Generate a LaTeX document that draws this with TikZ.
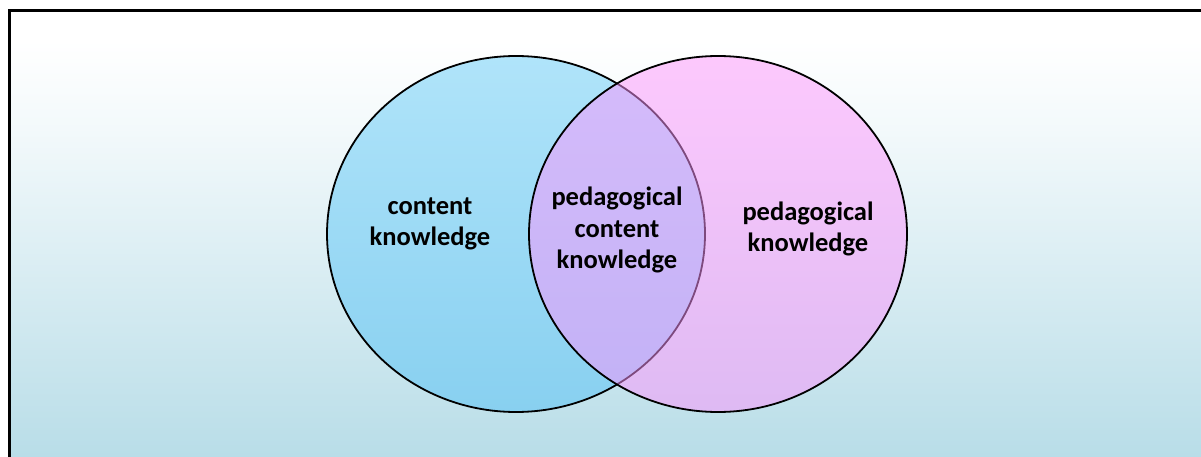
\documentclass[tikz,border=0pt]{standalone}
\usepackage{fontspec}
\setmainfont{Carlito}
\begin{document}
\begin{tikzpicture}[x=1pt,y=-1pt,
  lbl/.style={font=\bfseries\fontsize{26.5}{31.5}\selectfont, align=center, text=black, inner sep=0pt},
  ring/.style={line width=1.8pt, draw=black}]
\definecolor{bgtop}{RGB}{255,255,255}
\definecolor{bgbot}{RGB}{182,220,231}
\definecolor{bluetop}{RGB}{176,228,250}
\definecolor{bluebot}{RGB}{136,208,240}
\definecolor{pinktop}{RGB}{252,148,252}
\useasboundingbox (0,0) rectangle (1201,457);
\clip (0,0) rectangle (1201,457);
\shade[top color=bgtop, bottom color=bgbot] (10,60) rectangle (1215,470);
\fill[white] (10,10) rectangle (1215,60);
\shade[top color=bgtop, bottom color=bgtop!85!bgbot] (10,40) rectangle (1215,120);
\draw[line width=3pt] (9.5,470) -- (9.5,10.5) -- (1215,10.5);
\shade[ring, top color=bluetop, bottom color=bluebot] (516,234) ellipse [x radius=189, y radius=178];
\filldraw[ring, fill=pinktop, fill opacity=0.5] (718,234) ellipse [x radius=189, y radius=178];
\node[lbl] (ck) at (430,224) {content\\knowledge};
\node[lbl] (pck) at (617,230) {pedagogical\\content\\knowledge};
\node[lbl] (pk) at (808,229) {pedagogical\\knowledge};
\end{tikzpicture}
\end{document}
